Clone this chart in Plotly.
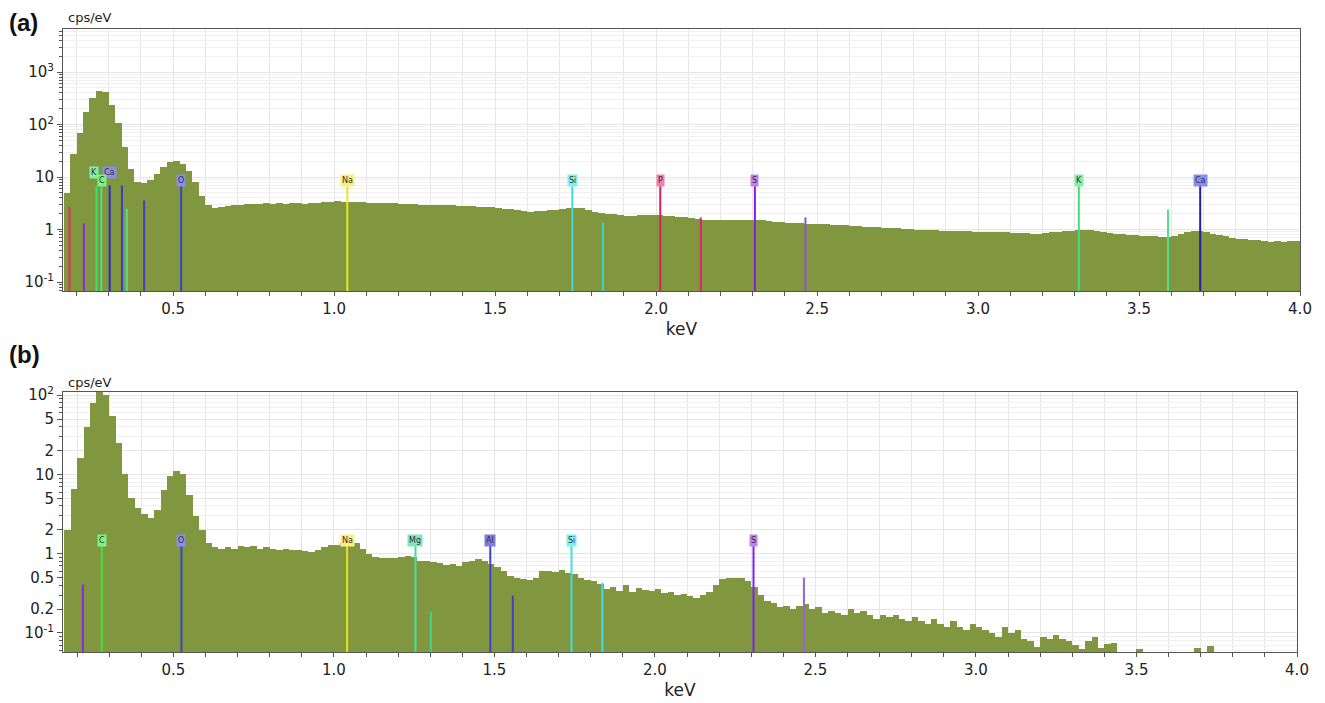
import plotly.graph_objects as go
import math

# ---------------- data ----------------
BIN_START = 0.17   # keV, centre of the first channel
BIN_WIDTH = 0.02   # keV

spectrum_a = [
    5, 28, 68, 170, 320, 440, 420, 240, 105, 38,
    14, 8.2, 7.8, 8.8, 11.5, 15.5, 19, 20, 18, 13,
    7.9, 4.4, 3.0, 2.6, 2.65, 2.8, 2.9, 3.0, 3.05, 3.1,
    3.05, 3.15, 3.1, 3.2, 3.1, 3.15, 3.2, 3.1, 3.2, 3.25,
    3.3, 3.35, 3.45, 3.3, 3.4, 3.35, 3.3, 3.25, 3.2, 3.2,
    3.15, 3.15, 3.1, 3.1, 3.05, 3.0, 3.0, 2.95, 2.95, 2.9,
    2.9, 2.85, 2.85, 2.8, 2.75, 2.7, 2.65, 2.6, 2.5, 2.45,
    2.35, 2.25, 2.2, 2.25, 2.3, 2.35, 2.4, 2.5, 2.55, 2.6,
    2.55, 2.4, 2.2, 2.1, 2.0, 1.95, 1.9, 1.85, 1.85, 1.9,
    1.92, 1.9, 1.88, 1.85, 1.8, 1.75, 1.7, 1.65, 1.6, 1.55,
    1.55, 1.5, 1.5, 1.5, 1.52, 1.55, 1.55, 1.55, 1.5, 1.45,
    1.4, 1.38, 1.35, 1.35, 1.32, 1.3, 1.28, 1.25, 1.25, 1.22,
    1.2, 1.2, 1.18, 1.15, 1.13, 1.12, 1.1, 1.08, 1.07, 1.05,
    1.03, 1.02, 1.0, 0.99, 0.98, 0.97, 0.96, 0.95, 0.95, 0.93,
    0.92, 0.91, 0.9, 0.9, 0.89, 0.9, 0.88, 0.87, 0.86, 0.85,
    0.84, 0.84, 0.86, 0.88, 0.9, 0.92, 0.95, 0.97, 1.0, 0.98,
    0.93, 0.9, 0.87, 0.84, 0.82, 0.8, 0.78, 0.77, 0.75, 0.74,
    0.73, 0.72, 0.76, 0.82, 0.88, 0.93, 0.95, 0.9, 0.84, 0.78,
    0.74, 0.7, 0.67, 0.66, 0.64, 0.63, 0.6, 0.57, 0.6, 0.59,
    0.61, 0.6,
]

spectrum_b = [
    2.0, 6.5, 16, 40, 80, 110, 100, 55, 25, 10,
    5, 3.8, 3.2, 2.8, 3.6, 6.4, 9.5, 11, 10, 5.5,
    3.0, 2.0, 1.35, 1.2, 1.15, 1.2, 1.15, 1.25, 1.2, 1.25,
    1.15, 1.2, 1.15, 1.12, 1.15, 1.1, 1.12, 1.08, 1.05, 1.1,
    1.2, 1.3, 1.3, 1.35, 1.38, 1.35, 1.15, 1.0, 0.9, 0.88,
    0.88, 0.89, 0.92, 0.93, 0.9, 0.82, 0.8, 0.78, 0.76, 0.72,
    0.75, 0.7, 0.78, 0.82, 0.85, 0.8, 0.75, 0.68, 0.6, 0.52,
    0.5, 0.48, 0.47, 0.5, 0.6, 0.6, 0.58, 0.62, 0.57, 0.55,
    0.5, 0.47, 0.45, 0.42, 0.36, 0.38, 0.34, 0.4, 0.33, 0.37,
    0.35, 0.34, 0.36, 0.32, 0.33, 0.30, 0.31, 0.29, 0.28, 0.30,
    0.33, 0.40, 0.48, 0.50, 0.49, 0.50, 0.45, 0.38, 0.30, 0.25,
    0.24, 0.21, 0.22, 0.20, 0.22, 0.23, 0.20, 0.21, 0.18, 0.19,
    0.18, 0.17, 0.20, 0.18, 0.19, 0.17, 0.15, 0.17, 0.16, 0.17,
    0.15, 0.14, 0.16, 0.14, 0.13, 0.15, 0.13, 0.12, 0.14, 0.12,
    0.11, 0.13, 0.12, 0.11, 0.10, 0.09, 0.12, 0.10, 0.11, 0.085,
    0.08, 0.066, 0.09, 0.085, 0.095, 0.085, 0.08, 0.07, 0.063, 0.08,
    0.09, 0.065, 0.072, 0.075, None, None, None, 0.063, None, None,
    None, None, None, None, None, None, 0.064, None, 0.069, None,
    None, None, None, None, None, None, None, None, None, None,
    None, None,
]

# element marker lines: energy (keV), height (cps/eV), colour
lines_a_energy = [0.178, 0.223, 0.262, 0.277, 0.303, 0.341, 0.356, 0.41, 0.525,
                  1.041, 1.74, 1.835, 2.013, 2.139, 2.307, 2.464, 3.313, 3.59, 3.69]
lines_a_height = [2.7, 1.3, 6.9, 6.9, 6.9, 6.9, 2.5, 3.6, 6.9,
                  6.9, 6.9, 1.36, 6.9, 1.7, 6.9, 1.7, 6.9, 2.4, 6.9]
lines_a_color = ['#e8305a', '#8a2be2', '#40e070', '#50e080', '#2a2ad0', '#3a3ac8',
                 '#50e090', '#4040c0', '#4040c0', '#e8e820', '#40d8e0', '#40d0c0',
                 '#d82060', '#e02070', '#8020e0', '#9050d0', '#40e080', '#50e090', '#2020a0']

lines_b_energy = [0.218, 0.277, 0.525, 1.041, 1.254, 1.302, 1.487, 1.557, 1.74,
                  1.836, 2.307, 2.464]
lines_b_height = [0.41, 1.26, 1.26, 1.26, 1.26, 0.186, 1.26, 0.296, 1.26,
                  0.43, 1.26, 0.5]
lines_b_color = ['#8a2be2', '#40e040', '#4040c0', '#e8e020', '#40e0a0', '#40d090',
                 '#4040d0', '#4040c0', '#40e0e0', '#40e0e0', '#8020f0', '#a060d0']

# element labels: text, energy, label height (cps/eV), box colour
labels_a_text = ['K', 'Ca', 'C', 'O', 'Na', 'Si', 'P', 'S', 'K', 'Ca']
labels_a_energy = [0.254, 0.301, 0.278, 0.525, 1.041, 1.74, 2.013, 2.307, 3.313, 3.69]
labels_a_level = [12.2, 12.2, 8.6, 8.6, 8.6, 8.6, 8.6, 8.6, 8.6, 8.6]
labels_a_bg = ['#80f0a8', '#8c8cf0', '#80f080', '#8c8cf0', '#f8f080', '#80f0f0',
               '#f080b0', '#c080f0', '#80f0a8', '#8c8cf0']

labels_b_text = ['C', 'O', 'Na', 'Mg', 'Al', 'Si', 'S']
labels_b_energy = [0.277, 0.525, 1.041, 1.254, 1.487, 1.74, 2.307]
labels_b_level = [1.46] * 7
labels_b_bg = ['#80f080', '#8c8cf0', '#f8f080', '#80e8b8', '#7c7ce8', '#80f0f0', '#c080f0']

x_ticks = [0.5, 1.0, 1.5, 2.0, 2.5, 3.0, 3.5, 4.0]
y_ticks_a = [0.1, 1, 10, 100, 1000]
y_text_a = ['10<sup>-1</sup>', '1', '10', '10<sup>2</sup>', '10<sup>3</sup>']
y_ticks_b = [0.1, 0.2, 0.5, 1, 2, 5, 10, 20, 50, 100]
y_text_b = ['10<sup>-1</sup>', '0.2', '0.5', '1', '2', '5', '10', '2', '5', '10<sup>2</sup>']

# ---------------- figure ----------------
W, H = 1325, 703
OLIVE = 'rgb(128,151,64)'
GRID = 'rgb(230,230,230)'
AXC = '#555555'
FONT = 'DejaVu Sans'

fig = go.Figure()

fig.add_trace(go.Bar(x0=BIN_START, dx=BIN_WIDTH, y=spectrum_a, width=BIN_WIDTH,
                     marker=dict(color=OLIVE, line=dict(width=0)),
                     xaxis='x', yaxis='y', showlegend=False, hoverinfo='skip'))
fig.add_trace(go.Bar(x0=BIN_START, dx=BIN_WIDTH, y=spectrum_b, width=BIN_WIDTH,
                     marker=dict(color=OLIVE, line=dict(width=0)),
                     xaxis='x2', yaxis='y2', showlegend=False, hoverinfo='skip'))

for e, h, c in zip(lines_a_energy, lines_a_height, lines_a_color):
    fig.add_trace(go.Scatter(x=[e, e], y=[0.001, h], mode='lines',
                             line=dict(color=c, width=2), xaxis='x', yaxis='y',
                             showlegend=False, hoverinfo='skip'))
for e, h, c in zip(lines_b_energy, lines_b_height, lines_b_color):
    fig.add_trace(go.Scatter(x=[e, e], y=[0.001, h], mode='lines',
                             line=dict(color=c, width=2), xaxis='x2', yaxis='y2',
                             showlegend=False, hoverinfo='skip'))

annotations = []
for t, e, lv, bg in zip(labels_a_text, labels_a_energy, labels_a_level, labels_a_bg):
    annotations.append(dict(x=e, y=math.log10(lv), xref='x', yref='y', text=t,
                            showarrow=False, bgcolor=bg, borderpad=1,
                            font=dict(family=FONT, size=8, color='#333')))
for t, e, lv, bg in zip(labels_b_text, labels_b_energy, labels_b_level, labels_b_bg):
    annotations.append(dict(x=e, y=math.log10(lv), xref='x2', yref='y2', text=t,
                            showarrow=False, bgcolor=bg, borderpad=1,
                            font=dict(family=FONT, size=8, color='#333')))

annotations += [
    dict(x=7 / W, y=1 - 22 / H, xref='paper', yref='paper', text='<b>(a)</b>',
         showarrow=False, xanchor='left', yanchor='middle',
         font=dict(family='Liberation Sans', size=24, color='#111')),
    dict(x=7 / W, y=1 - 354 / H, xref='paper', yref='paper', text='<b>(b)</b>',
         showarrow=False, xanchor='left', yanchor='middle',
         font=dict(family='Liberation Sans', size=24, color='#111')),
    dict(x=66 / W, y=1 - 18 / H, xref='paper', yref='paper', text='cps/eV',
         showarrow=False, xanchor='left', yanchor='middle',
         font=dict(family=FONT, size=13, color='#222')),
    dict(x=66 / W, y=1 - 382 / H, xref='paper', yref='paper', text='cps/eV',
         showarrow=False, xanchor='left', yanchor='middle',
         font=dict(family=FONT, size=13, color='#222')),
]

minor_log = [k * 10 ** d for d in range(-2, 4) for k in range(2, 10)]


def xaxis_cfg(domain, rng, anchor):
    return dict(domain=domain, range=rng, anchor=anchor, automargin=False,
                tickvals=x_ticks, ticktext=[f'{v:.1f}' for v in x_ticks],
                ticks='outside', ticklen=4, tickcolor=AXC,
                showgrid=True, gridcolor=GRID, gridwidth=1,
                minor=dict(dtick=0.1, tick0=0, ticks='outside', ticklen=4,
                           tickcolor=AXC, showgrid=True, gridcolor=GRID),
                showline=True, linecolor=AXC, linewidth=1, mirror=True,
                zeroline=False,
                tickfont=dict(family=FONT, size=15, color='#222'),
                title=dict(text='keV', standoff=6,
                           font=dict(family=FONT, size=17, color='#222')))


def yaxis_cfg(domain, rng, anchor, tv, tt):
    return dict(domain=domain, range=rng, anchor=anchor, type='log', automargin=False,
                tickvals=tv, ticktext=tt,
                ticks='outside', ticklen=5, tickcolor=AXC,
                showgrid=True, gridcolor=GRID, gridwidth=1,
                minor=dict(tickvals=minor_log, ticks='outside', ticklen=3,
                           tickcolor=AXC, showgrid=True, gridcolor='rgb(240,240,240)'),
                showline=True, linecolor=AXC, linewidth=1, mirror=True,
                zeroline=False,
                tickfont=dict(family=FONT, size=15, color='#222'))


fig.update_layout(
    width=W, height=H,
    margin=dict(l=0, r=0, t=0, b=0, autoexpand=False),
    paper_bgcolor='white', plot_bgcolor='white',
    bargap=0,
    xaxis=xaxis_cfg([63 / W, 1300 / W], [0.158, 4.0], 'y'),
    yaxis=yaxis_cfg([1 - 291 / H, 1 - 29 / H], [-1.17, 3.82], 'x', y_ticks_a, y_text_a),
    xaxis2=xaxis_cfg([63 / W, 1297 / W], [0.156, 4.0], 'y2'),
    yaxis2=yaxis_cfg([1 - 652 / H, 1 - 392 / H], [-1.24, 2.04], 'x2', y_ticks_b, y_text_b),
    annotations=annotations,
)

fig.write_html('out.html', config={'displayModeBar': False},
               post_script="document.body.style.margin='0';document.body.style.overflow='hidden';")
